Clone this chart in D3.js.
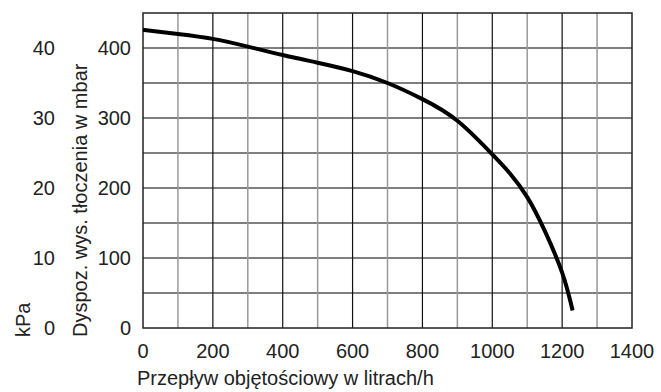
<!DOCTYPE html>
<html>
<head>
<script src="https://d3js.org/d3.v7.min.js"></script>
<style>
  body { margin: 0; background: #fff; }
  text { font-family: "Liberation Sans", Arial, sans-serif; fill: #222; }
</style>
</head>
<body>
<svg id="viz"></svg>
<script>
// flow in l/h and available delivery head in mbar
var flow = [0, 100, 200, 300, 400, 500, 600, 700, 800, 900, 1000, 1050, 1100, 1150, 1200, 1230];
var head = [426, 420, 413, 402, 390, 379, 367, 350, 327, 296, 248, 221, 187, 139, 79, 25];
var xTicks = [0, 200, 400, 600, 800, 1000, 1200, 1400];
var mbarTicks = [0, 100, 200, 300, 400];
var kpaTicks = [0, 10, 20, 30, 40];

var width = 661, height = 392;
var plotL = 143, plotR = 632, plotT = 13, plotB = 328;

var svg = d3.select("#viz").attr("width", width).attr("height", height);

var x = d3.scaleLinear().domain([0, 1400]).range([plotL, plotR]);
var y = d3.scaleLinear().domain([0, 450]).range([plotB, plotT]);

var grid = svg.append("g");
// horizontal lines every 50 mbar
grid.selectAll("line.h")
  .data(d3.range(50, 450, 50))
  .enter().append("line")
  .attr("x1", plotL).attr("x2", plotR)
  .attr("y1", function(d) { return y(d); })
  .attr("y2", function(d) { return y(d); })
  .attr("stroke", "#555").attr("stroke-width", 1.5);
// vertical lines every 100 l/h, darker at 200 steps
grid.selectAll("line.v")
  .data(d3.range(100, 1400, 100))
  .enter().append("line")
  .attr("y1", plotT).attr("y2", plotB)
  .attr("x1", function(d) { return x(d); })
  .attr("x2", function(d) { return x(d); })
  .attr("stroke", function(d) { return d % 200 == 0 ? "#111" : "#999"; })
  .attr("stroke-width", function(d) { return d % 200 == 0 ? 1.2 : 1.5; });

svg.append("rect")
  .attr("x", plotL).attr("y", plotT)
  .attr("width", plotR - plotL).attr("height", plotB - plotT)
  .attr("fill", "none").attr("stroke", "#222").attr("stroke-width", 1.5);

// curve
var line = d3.line()
  .x(function(d, i) { return x(flow[i]); })
  .y(function(d) { return y(d); })
  .curve(d3.curveNatural);
svg.append("path")
  .datum(head)
  .attr("d", line)
  .attr("fill", "none")
  .attr("stroke", "#000")
  .attr("stroke-width", 4);

// tick labels
svg.selectAll("text.xt")
  .data(xTicks).enter().append("text")
  .attr("x", function(d) { return x(d); })
  .attr("y", 358)
  .attr("text-anchor", "middle")
  .attr("font-size", 20)
  .text(function(d) { return d; });

svg.selectAll("text.mb")
  .data(mbarTicks).enter().append("text")
  .attr("x", 131)
  .attr("y", function(d) { return y(d) + 7; })
  .attr("text-anchor", "end")
  .attr("font-size", 20)
  .text(function(d) { return d; });

svg.selectAll("text.kp")
  .data(kpaTicks).enter().append("text")
  .attr("x", 55)
  .attr("y", function(d) { return y(d * 10) + 7; })
  .attr("text-anchor", "end")
  .attr("font-size", 20)
  .text(function(d) { return d; });

// axis titles
svg.append("text")
  .attr("x", 137).attr("y", 385)
  .attr("font-size", 20)
  .text("Przepływ objętościowy w litrach/h");

svg.append("text")
  .attr("transform", "translate(87,337) rotate(-90)")
  .attr("font-size", 20)
  .text("Dyspoz. wys. tłoczenia w mbar");

svg.append("text")
  .attr("transform", "translate(30,337) rotate(-90)")
  .attr("font-size", 20)
  .text("kPa");
</script>
</body>
</html>
